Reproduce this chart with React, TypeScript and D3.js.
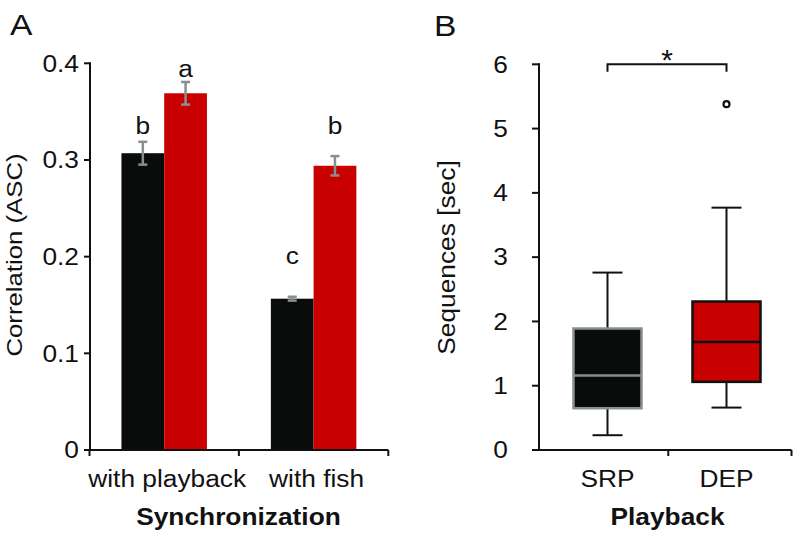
import React from "react";
import * as d3 from "d3";

const groupsA = ["with playback", "with fish"];
const seriesA = ["black", "red"];
const meansA = [[0.307, 0.369], [0.1565, 0.294]];
const errA = [[0.0118, 0.0117], [0.002, 0.01]];
const lettersA = [["b", "a"], ["c", "b"]];
const letterPosA = [[0.327, 0.386], [0.1924, 0.327]];
const ticksA = [0, 0.1, 0.2, 0.3, 0.4];

const groupsB = ["SRP", "DEP"];
const boxStats = [
  { lo: 0.23, q1: 0.65, med: 1.16, q3: 1.89, hi: 2.76, out: [] as number[] },
  { lo: 0.66, q1: 1.06, med: 1.68, q3: 2.31, hi: 3.77, out: [5.38] },
];
const ticksB = [0, 1, 2, 3, 4, 5, 6];

const RED = "#c90000";
const BLACK = "#0a0c0c";
const GRAY = "#87908f";
const INK = "#111";
const FONT = "'Liberation Sans', Arial, sans-serif";
const SX = 1.12;

function T(props: {
  x: number; y: number; children: React.ReactNode; size?: number; anchor?: string;
  bold?: boolean; rot?: number; sx?: number;
}) {
  const { x, y, children, size = 23.5, anchor = "middle", bold = false, rot = 0, sx = SX } = props;
  return (
    <text
      transform={`translate(${x},${y}) rotate(${rot}) scale(${sx},1)`}
      textAnchor={anchor}
      fontSize={size}
      fontWeight={bold ? "bold" : "normal"}
      fill={INK}
    >
      {children}
    </text>
  );
}

export default function App() {
  // Panel A
  const yA = d3.scaleLinear().domain([0, 0.4]).range([450, 63.3]);
  const xA = d3.scaleBand().domain(groupsA).range([89.5, 388.3]);
  const barsW = 85.5;
  const inner = d3.scaleBand().domain(seriesA).range([0, barsW]);
  const off = (xA.bandwidth() - barsW) / 2;

  // Panel B
  const yB = d3.scaleLinear().domain([0, 6]).range([450, 64.3]);
  const xB = d3.scaleBand().domain(groupsB).range([548, 786]);
  const boxW = 68;
  const capW = 30;
  const cB = (g: string) => (xB(g) as number) + xB.bandwidth() / 2;

  return (
    <svg width={796} height={536} style={{ position: "absolute", left: 0, top: 0 }} fontFamily={FONT}>
      <rect width={796} height={536} fill="#fff" />
      {/* Panel A */}
      <T x={10} y={35} size={30} anchor="start">A</T>
      {groupsA.map((g, gi) =>
        seriesA.map((s, si) => {
          const x = (xA(g) as number) + off + (inner(s) as number);
          const w = inner.bandwidth();
          const v = meansA[gi][si];
          const e = errA[gi][si];
          const cx = x + w / 2;
          return (
            <g key={g + s}>
              <rect x={x} y={yA(v)} width={w} height={yA(0) - yA(v)} fill={s === "red" ? RED : BLACK} />
              <line x1={cx} x2={cx} y1={yA(v + e)} y2={yA(v - e)} stroke={GRAY} strokeWidth={2.5} />
              <line x1={cx - 4.5} x2={cx + 4.5} y1={yA(v + e)} y2={yA(v + e)} stroke={GRAY} strokeWidth={2.5} />
              <line x1={cx - 4.5} x2={cx + 4.5} y1={yA(v - e)} y2={yA(v - e)} stroke={GRAY} strokeWidth={2.5} />
              <T x={cx} y={yA(letterPosA[gi][si])}>{lettersA[gi][si]}</T>
            </g>
          );
        })
      )}
      <line x1={90} x2={90} y1={62.3} y2={451} stroke={INK} strokeWidth={2} />
      <line x1={89} x2={388.3} y1={450} y2={450} stroke={INK} strokeWidth={2} />
      {[89.5, 238.9, 388.3].map((x) => (
        <line key={x} x1={x} x2={x} y1={450} y2={456} stroke={INK} strokeWidth={2} />
      ))}
      {ticksA.map((t) => (
        <g key={t}>
          <line x1={84} x2={90} y1={yA(t)} y2={yA(t)} stroke={INK} strokeWidth={2} />
          <T x={79} y={yA(t) + 8.3} anchor="end">{t === 0 ? "0" : t.toFixed(1)}</T>
        </g>
      ))}
      {groupsA.map((g) => (
        <T key={g} x={(xA(g) as number) + xA.bandwidth() / 2 + 3} y={487}>{g}</T>
      ))}
      <T x={238.5} y={525} bold>Synchronization</T>
      <T x={22} y={255} rot={-90} size={23}>Correlation (ASC)</T>

      {/* Panel B */}
      <T x={434} y={36} size={30} anchor="start">B</T>
      {boxStats.map((b, i) => {
        const cx = cB(groupsB[i]);
        const isRed = i === 1;
        const stroke = isRed ? INK : GRAY;
        return (
          <g key={i}>
            <line x1={cx} x2={cx} y1={yB(b.hi)} y2={yB(b.q3)} stroke={INK} strokeWidth={2} />
            <line x1={cx} x2={cx} y1={yB(b.q1)} y2={yB(b.lo)} stroke={INK} strokeWidth={2} />
            <line x1={cx - capW / 2} x2={cx + capW / 2} y1={yB(b.hi)} y2={yB(b.hi)} stroke={INK} strokeWidth={2} />
            <line x1={cx - capW / 2} x2={cx + capW / 2} y1={yB(b.lo)} y2={yB(b.lo)} stroke={INK} strokeWidth={2} />
            <rect x={cx - boxW / 2} y={yB(b.q3)} width={boxW} height={yB(b.q1) - yB(b.q3)} fill={isRed ? RED : BLACK} stroke={stroke} strokeWidth={2.5} />
            <line x1={cx - boxW / 2} x2={cx + boxW / 2} y1={yB(b.med)} y2={yB(b.med)} stroke={stroke} strokeWidth={2.5} />
            {b.out.map((o, k) => (
              <circle key={k} cx={cx} cy={yB(o)} r={3} fill="#fff" stroke={INK} strokeWidth={2.2} />
            ))}
          </g>
        );
      })}
      <path
        d={`M${cB("SRP")},${yB(6) + 7.5}V${yB(6)}H${cB("DEP")}V${yB(6) + 7.5}`}
        fill="none" stroke={INK} strokeWidth={2}
      />
      <T x={(cB("SRP") + cB("DEP")) / 2} y={70} size={30} sx={1}>*</T>
      <line x1={539} x2={539} y1={63.3} y2={451} stroke={INK} strokeWidth={2} />
      <line x1={538} x2={791.5} y1={450} y2={450} stroke={INK} strokeWidth={2} />
      {[668.3, 791.5].map((x) => (
        <line key={x} x1={x} x2={x} y1={450} y2={456} stroke={INK} strokeWidth={2} />
      ))}
      {ticksB.map((t) => (
        <g key={t}>
          <line x1={532} x2={539} y1={yB(t)} y2={yB(t)} stroke={INK} strokeWidth={2} />
          <T x={508} y={yB(t) + 8.3} anchor="end">{t}</T>
        </g>
      ))}
      {groupsB.map((g) => (
        <T key={g} x={cB(g)} y={487}>{g}</T>
      ))}
      <T x={667.5} y={525} bold>Playback</T>
      <T x={455} y={257.5} rot={-90}>Sequences [sec]</T>
    </svg>
  );
}
